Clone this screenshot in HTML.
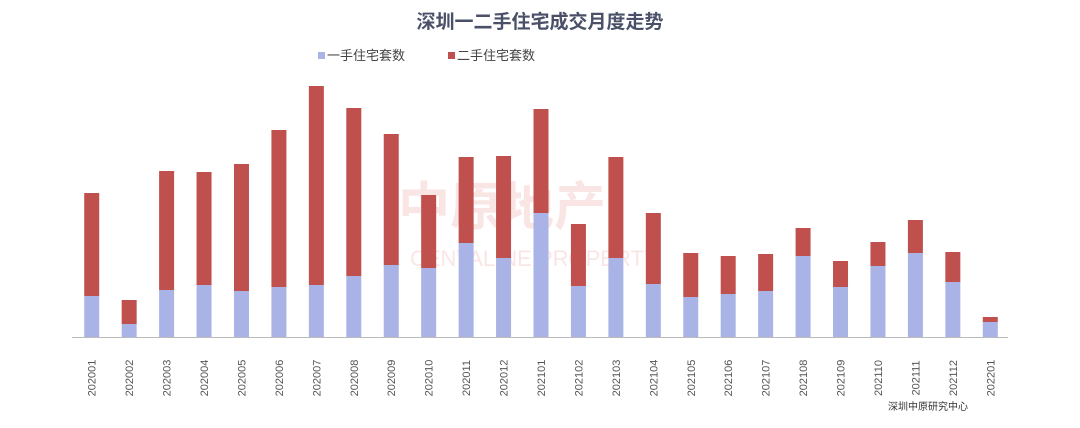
<!DOCTYPE html>
<html><head><meta charset="utf-8">
<style>
html,body{margin:0;padding:0;background:#fff;}
body{width:1080px;height:423px;overflow:hidden;font-family:"Liberation Sans","Noto Sans CJK SC",sans-serif;}
</style></head>
<body>
<svg id="chart" width="1080" height="423" xmlns="http://www.w3.org/2000/svg">
  <text x="540" y="28" text-anchor="middle" font-size="19" font-weight="bold" fill="#4a5068" font-family="Liberation Sans, Noto Sans CJK SC, sans-serif">深圳一二手住宅成交月度走势</text>
  <g font-size="13" fill="#444" font-family="Liberation Sans, Noto Sans CJK SC, sans-serif">
    <g>
      <rect x="318" y="52" width="7" height="7" fill="#a9b3e6"/>
      <text x="327" y="60">一手住宅套数</text>
    </g>
    <g>
      <rect x="448" y="52" width="7" height="7" fill="#c0504d"/>
      <text x="457" y="60">二手住宅套数</text>
    </g>
  </g>
  <g opacity="0.13" fill="#e04040" font-family="Liberation Sans, Noto Sans CJK SC, sans-serif">
    <text x="398" y="225" font-size="52" font-weight="bold">中原地产</text>
    <text x="410" y="266" font-size="22">CENTALINE PROPERTY</text>
  </g>
  <g id="bars"></g>
  <line x1="72" y1="337.5" x2="1008" y2="337.5" stroke="#bbb" stroke-width="1"/>
  <g id="ticks"></g>
  <text x="928" y="410" text-anchor="middle" font-size="10" fill="#333" font-family="Liberation Sans, Noto Sans CJK SC, sans-serif">深圳中原研究中心</text>
</svg>
<script>
const categories = ["202001","202002","202003","202004","202005","202006","202007","202008","202009","202010","202011","202012","202101","202102","202103","202104","202105","202106","202107","202108","202109","202110","202111","202112","202201"];
const firstHand = [41,13,47,52,46,50,52,61,72,69,94,79,124,51,79,53,40,43,46,81,50,71,84,55,15];
const secondHand = [103,24,119,113,127,157,199,168,131,73,86,102,104,62,101,71,44,38,37,28,26,24,33,30,5];

const NS = "http://www.w3.org/2000/svg";
const x0 = 73, x1 = 1009, baseY = 337, yScale = 1;
const band = (x1 - x0) / categories.length;
const xCenter = i => x0 + band * (i + 0.5);
const yPos = v => baseY - v * yScale;
const barW = 15;
const bars = document.getElementById("bars");
const ticks = document.getElementById("ticks");

categories.forEach((c, i) => {
  const cx = xCenter(i);
  const r1 = document.createElementNS(NS, "rect");
  
  
  r1.setAttribute("x", cx - barW / 2);
  r1.setAttribute("y", yPos(firstHand[i]));
  r1.setAttribute("width", barW);
  r1.setAttribute("height", baseY - yPos(firstHand[i]));
  r1.setAttribute("fill", "#a9b3e6");
  bars.appendChild(r1);
  const r2 = document.createElementNS(NS, "rect");
  
  
  r2.setAttribute("x", cx - barW / 2);
  r2.setAttribute("y", yPos(firstHand[i] + secondHand[i]));
  r2.setAttribute("width", barW);
  r2.setAttribute("height", yPos(firstHand[i]) - yPos(firstHand[i] + secondHand[i]));
  r2.setAttribute("fill", "#c0504d");
  bars.appendChild(r2);
  const t = document.createElementNS(NS, "text");
  
  
  t.setAttribute("transform", "translate(" + (cx + 4) + ",378) rotate(-90)");
  t.setAttribute("font-size", "11");
  t.setAttribute("fill", "#555");
  t.setAttribute("text-anchor", "middle");
  t.setAttribute("font-family", "Liberation Sans, sans-serif");
  t.textContent = c;
  ticks.appendChild(t);
});
</script>
</body></html>
